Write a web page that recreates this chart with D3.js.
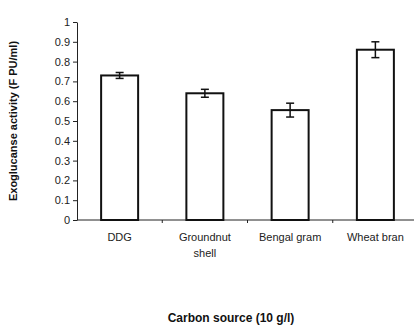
<!DOCTYPE html>
<html>
<head>
<meta charset="utf-8">
<script src="https://cdn.jsdelivr.net/npm/d3@7"></script>
<style>
  body { margin: 0; background: #fff; }
  svg { display: block; font-family: "Liberation Sans", Arial, sans-serif; }
</style>
</head>
<body>
<svg id="chart" width="414" height="327"></svg>
<script>
// Exoglucanase activity by carbon source
const categories = ["DDG", "Groundnut shell", "Bengal gram", "Wheat bran"];
const activity = [0.73, 0.64, 0.555, 0.86];
const errors = [0.015, 0.02, 0.035, 0.04];
const yTicks = [0, 0.1, 0.2, 0.3, 0.4, 0.5, 0.6, 0.7, 0.8, 0.9, 1];

const svg = d3.select("#chart");
const plotLeft = 77, plotRight = 418, plotTop = 22, plotBottom = 220;

const x = d3.scaleBand().domain(categories).range([plotLeft, plotRight]).paddingInner(0).paddingOuter(0);
const y = d3.scaleLinear().domain([0, 1]).range([plotBottom, plotTop]);

// y axis
const yAxis = svg.append("g")
  .attr("transform", `translate(${plotLeft},0)`)
  .call(d3.axisLeft(y).tickValues(yTicks).tickSize(4).tickSizeOuter(0)
    .tickFormat(d => d3.format("~g")(d)));
yAxis.select(".domain").attr("stroke", "#222").attr("stroke-width", 1);
yAxis.selectAll(".tick line").attr("stroke", "#222");
yAxis.selectAll(".tick text").attr("font-size", 11).attr("fill", "#222").attr("x", -7);

// x axis line with ticks between categories
svg.append("line")
  .attr("x1", plotLeft).attr("x2", plotRight)
  .attr("y1", y(0)).attr("y2", y(0))
  .attr("stroke", "#222").attr("stroke-width", 1);
svg.append("g").selectAll("line")
  .data(categories.slice(1))
  .join("line")
  .attr("x1", d => x(d)).attr("x2", d => x(d))
  .attr("y1", y(0)).attr("y2", y(0) + 3)
  .attr("stroke", "#222");

// bars
const barW = 37;
svg.append("g").selectAll("rect")
  .data(categories)
  .join("rect")
  .attr("x", d => x(d) + x.bandwidth() / 2 - barW / 2)
  .attr("width", barW)
  .attr("y", (d, i) => y(activity[i]))
  .attr("height", (d, i) => y(0) - y(activity[i]))
  .attr("fill", "#fff")
  .attr("stroke", "#111")
  .attr("stroke-width", 2);

// error bars
const eb = svg.append("g").attr("stroke", "#111").attr("stroke-width", 1.5);
categories.forEach((c, i) => {
  const cx = x(c) + x.bandwidth() / 2;
  const hi = y(activity[i] + errors[i]), lo = y(activity[i] - errors[i]);
  eb.append("line").attr("x1", cx).attr("x2", cx).attr("y1", hi).attr("y2", lo);
  eb.append("line").attr("x1", cx - 4).attr("x2", cx + 4).attr("y1", hi).attr("y2", hi);
  eb.append("line").attr("x1", cx - 4).attr("x2", cx + 4).attr("y1", lo).attr("y2", lo);
});

// category labels (wrapped)
const labels = svg.append("g").attr("font-size", 11).attr("fill", "#222").attr("text-anchor", "middle");
categories.forEach(c => {
  const cx = x(c) + x.bandwidth() / 2;
  const lines = c === "Groundnut shell" ? ["Groundnut", "shell"] : [c];
  const t = labels.append("text").attr("x", cx).attr("y", 241);
  lines.forEach((l, k) => t.append("tspan").attr("x", cx).attr("dy", k === 0 ? 0 : 16).text(l));
});

// axis titles
svg.append("text")
  .attr("x", 231).attr("y", 322)
  .attr("text-anchor", "middle")
  .attr("font-size", 12).attr("font-weight", "bold").attr("fill", "#111")
  .text("Carbon source (10 g/l)");

svg.append("text")
  .attr("transform", "translate(17,121) rotate(-90)")
  .attr("text-anchor", "middle")
  .attr("font-size", 11).attr("font-weight", "bold").attr("fill", "#111")
  .text("Exoglucanse activity (F PU/ml)");
</script>
</body>
</html>
